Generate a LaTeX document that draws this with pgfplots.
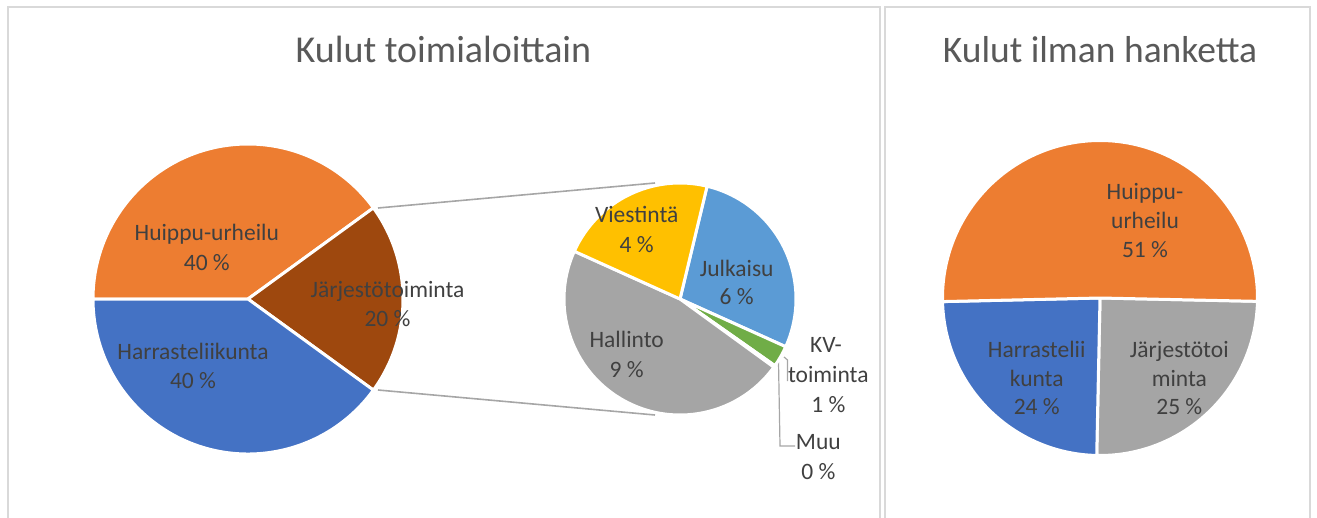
\documentclass[border=0pt]{standalone}
\usepackage{fontspec}
\setmainfont{Carlito}
\usepackage{pgfplots}
\pgfplotsset{compat=1.18}
\usepackage{pgfplotstable}

\definecolor{cOrange}{HTML}{ED7D31}
\definecolor{cBrown}{HTML}{9E480E}
\definecolor{cBlue}{HTML}{4472C4}
\definecolor{cLBlue}{HTML}{5B9BD5}
\definecolor{cGold}{HTML}{FFC000}
\definecolor{cGray}{HTML}{A5A5A5}
\definecolor{cGreen}{HTML}{70AD47}
\definecolor{cDBlue}{HTML}{264478}
\definecolor{cLabel}{HTML}{404040}
\definecolor{cTitle}{HTML}{595959}
\definecolor{cFrame}{HTML}{D9D9D9}
\definecolor{cLine}{HTML}{A6A6A6}

\pgfdeclareplotmark{nomark}{}

% main pie: value (%), start angle (deg), colour
\pgfplotstableread[col sep=comma]{
x,y,val,start,col
248,299,40,180,cOrange
248,299,20,36,cBrown
248,299,40,-36,cBlue
}\mainpie
% secondary pie (the 20 % of Jarjestotoiminta)
\pgfplotstableread[col sep=comma]{
x,y,val,start,col
680,299,5.6,76.5,cLBlue
680,299,0.6,-24.3,cGreen
680,299,0.05,-35.1,cDBlue
680,299,9.35,-36.0,cGray
680,299,4.4,-204.3,cGold
}\secpie
% right pie
\pgfplotstableread[col sep=comma]{
x,y,val,start,col
1100,298,25.0,-1.2,cGray
1100,298,24.3,-91.2,cBlue
1100,298,50.7,-178.7,cOrange
}\rightpie

\pgfplotsset{
  pie/.style n args={2}{% radius, degrees per unit
    only marks, mark=nomark, scatter,
    point meta=explicit symbolic,
    visualization depends on={\thisrow{start} \as \sa},
    visualization depends on={\thisrow{val} \as \val},
    scatter/@pre marker code/.code={%
      \filldraw[fill=\pgfplotspointmeta, draw=white, line width=3bp, line join=round]
        (0,0) -- (\sa:#1) arc[start angle=\sa, delta angle={-\val*#2}, radius=#1] -- cycle;},
    scatter/@post marker code/.code={},
  },
  labels/.style={
    only marks, mark=nomark, scatter,
    point meta=explicit symbolic,
    scatter/@pre marker code/.code={%
      \node[anchor=base, inner sep=0pt, text=cLabel, font=\fontsize{23.5bp}{28bp}\selectfont] at (0,0) {\pgfplotspointmeta};},
    scatter/@post marker code/.code={},
  },
}

\begin{document}
\begin{tikzpicture}
\begin{axis}[
  width=1317bp, height=518bp, scale only axis,
  xmin=0, xmax=1317, ymin=0, ymax=518, y dir=reverse,
  hide axis, clip=true,
]
% invisible frame for bounding box
\addplot[draw=none] coordinates {(0,0) (1317,518)};
% panel frames
\addplot[draw=cFrame, line width=1.5bp] coordinates {(8,530) (8,7) (880,7) (880,530)};
\addplot[draw=cFrame, line width=1.5bp] coordinates {(885,530) (885,7) (1310,7) (1310,530)};
% connector lines
\addplot[draw=cLine, line width=1.6bp] coordinates {(378,208) (655,183)};
\addplot[draw=cLine, line width=1.6bp] coordinates {(378,390) (655,415)};
% leader lines
\addplot[draw=cLine, line width=1.2bp] coordinates {(784,357) (787.5,360) (787.5,381)};
\addplot[draw=cLine, line width=1.2bp] coordinates {(778.5,362) (780,446) (795,446)};
% pies
\addplot[pie={155bp}{3.6}] table[x=x, y=y, meta=col] {\mainpie};
\addplot[pie={116bp}{18}] table[x=x, y=y, meta=col] {\secpie};
\addplot[pie={157.5bp}{3.6}] table[x=x, y=y, meta=col] {\rightpie};
% data labels
\addplot[labels] table[col sep=comma, x=x, y=y, meta=t] {
x,y,t
206.8,240,Huippu-urheilu
206.8,270,40 \%
387.5,297.5,Järjestötoiminta
387.5,326,20 \%
193,359,Harrasteliikunta
193,388.5,40 \%
636.7,222.5,Viestintä
636.7,252.5,4 \%
736.7,276,Julkaisu
736.7,304,6 \%
626.7,347.5,Hallinto
626.7,377,9 \%
826,352.5,KV-
828.3,382.5,toiminta
828.3,412.5,1 \%
818.3,449,Muu
818.3,479,0 \%
1145,199.5,Huippu-
1145,228,urheilu
1145,257.5,51 \%
1036.7,357.5,Harrastelii
1036.7,386,kunta
1036.7,414,24 \%
1179.3,357.5,Järjestötoi
1179.3,386,minta
1179.3,414,25 \%
};
% titles
\node[anchor=base, inner sep=0pt, text=cTitle, font=\fontsize{38bp}{45bp}\selectfont] at (axis cs:443.5,63) {Kulut toimialoittain};
\node[anchor=base, inner sep=0pt, text=cTitle, font=\fontsize{37.5bp}{45bp}\selectfont] at (axis cs:1100,63) {Kulut ilman hanketta};
\end{axis}
\end{tikzpicture}
\end{document}
